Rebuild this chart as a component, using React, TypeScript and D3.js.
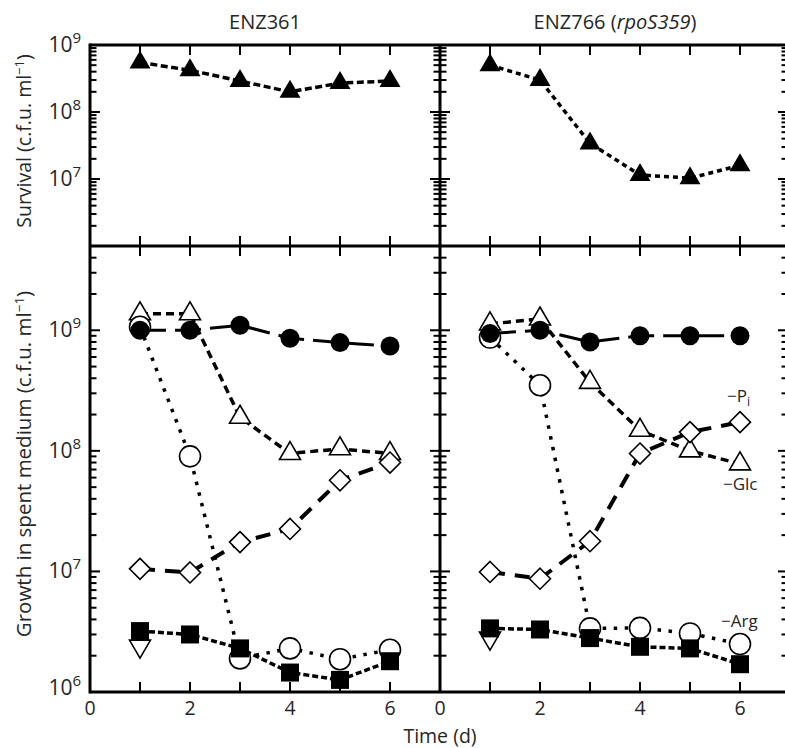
import React from "react";
import * as d3 from "d3";

// ---------- data ----------
const days = [1, 2, 3, 4, 5, 6];
const xTickLabels = [0, 2, 4, 6];
const panelTitles = ["ENZ361", "ENZ766"];

// Survival (filled triangles)
const survivalENZ361 = [5.5e8, 4.2e8, 2.9e8, 2.0e8, 2.7e8, 2.9e8];
const survivalENZ766 = [5.0e8, 3.0e8, 3.4e7, 1.15e7, 1.03e7, 1.6e7];

// Growth in spent medium — ENZ361
const fullENZ361 = [1.0e9, 1.0e9, 1.1e9, 8.6e8, 7.9e8, 7.4e8]; // filled circles
const glcENZ361 = [1.37e9, 1.37e9, 1.9e8, 9.5e7, 1.04e8, 9.5e7]; // open triangles (−Glc)
const argENZ361 = [1.07e9, 9.0e7, 1.9e6, 2.3e6, 1.87e6, 2.24e6]; // open circles (−Arg)
const piENZ361 = [1.05e7, 9.8e6, 1.75e7, 2.25e7, 5.7e7, 8.0e7]; // open diamonds (−Pi)
const sqENZ361 = [3.2e6, 3.0e6, 2.3e6, 1.45e6, 1.26e6, 1.8e6]; // filled squares
const invENZ361 = [2.4e6]; // open inverted triangle, day 1

// Growth in spent medium — ENZ766
const fullENZ766 = [9.4e8, 1.0e9, 8.0e8, 9.0e8, 9.0e8, 9.0e8];
const glcENZ766 = [1.13e9, 1.24e9, 3.7e8, 1.48e8, 1.0e8, 7.8e7];
const argENZ766 = [8.7e8, 3.5e8, 3.37e6, 3.4e6, 3.06e6, 2.5e6];
const piENZ766 = [9.9e6, 8.7e6, 1.78e7, 9.5e7, 1.43e8, 1.73e8];
const sqENZ766 = [3.37e6, 3.3e6, 2.8e6, 2.37e6, 2.3e6, 1.7e6];
const invENZ766 = [2.8e6];

const topMajor = [1e9, 1e8, 1e7];
const botMajor = [1e9, 1e8, 1e7, 1e6];

// ---------- layout ----------
const W = 785;
const H = 748;
const X0 = 90;
const XMID = 440;
const X1 = 790;
const YT = 45;
const YM = 246;
const YB = 692;
const FONT = "'Open Sans', 'Noto Sans', sans-serif";
const TXT = "#262626";

const xLeft = d3.scaleLinear().domain([0, 7]).range([X0, XMID]);
const xRight = d3.scaleLinear().domain([0, 7]).range([XMID, X1]);
const yTop = d3.scaleLog().domain([1e6, 1e9]).range([YM, YT]);
const yBot = d3.scaleLog().domain([1e6, 5e9]).range([YB, YM]);

type Sc = d3.ScaleLinear<number, number> | d3.ScaleLogarithmic<number, number>;

function pts(vals: number[], xs: Sc, ys: Sc, dayList = days) {
  return vals.map((v, i) => [xs(dayList[i]) as number, ys(v) as number] as [number, number]);
}

const lineGen = d3.line<[number, number]>();

function Marker({ kind, x, y }: { kind: string; x: number; y: number }) {
  const sw = 1.6;
  switch (kind) {
    case "fcircle":
      return <circle cx={x} cy={y} r={9.5} fill="#000" />;
    case "ocircle":
      return <circle cx={x} cy={y} r={10.5} fill="#fff" stroke="#000" strokeWidth={sw} />;
    case "ftri":
      return (
        <path d={`M${x},${y - 12}L${x + 10.5},${y + 6}L${x - 10.5},${y + 6}Z`} fill="#000" />
      );
    case "otri":
      return (
        <path
          d={`M${x},${y - 12}L${x + 10.5},${y + 6}L${x - 10.5},${y + 6}Z`}
          fill="#fff"
          stroke="#000"
          strokeWidth={sw}
        />
      );
    case "itri":
      return (
        <path
          d={`M${x},${y + 12}L${x + 10.5},${y - 6}L${x - 10.5},${y - 6}Z`}
          fill="#fff"
          stroke="#000"
          strokeWidth={sw}
        />
      );
    case "diamond":
      return (
        <path
          d={`M${x},${y - 10.5}L${x + 10.5},${y}L${x},${y + 10.5}L${x - 10.5},${y}Z`}
          fill="#fff"
          stroke="#000"
          strokeWidth={sw}
        />
      );
    case "fsquare":
      return <rect x={x - 9} y={y - 9} width={18} height={18} fill="#000" />;
    default:
      return null;
  }
}

function Series({
  vals,
  xs,
  ys,
  dash,
  width,
  dayList = days,
}: {
  vals: number[];
  xs: Sc;
  ys: Sc;
  dash: string;
  width: number;
  dayList?: number[];
}) {
  const p = pts(vals, xs, ys, dayList);
  return (
    <path
      d={lineGen(p) || ""}
      fill="none"
      stroke="#000"
      strokeWidth={width}
      strokeDasharray={dash}
      strokeLinecap="butt"
    />
  );
}

function Markers({ vals, xs, ys, kind, dayList = days }: { vals: number[]; xs: Sc; ys: Sc; kind: string; dayList?: number[] }) {
  const p = pts(vals, xs, ys, dayList);
  return (
    <g>
      {p.map(([x, y], i) => (
        <Marker key={i} kind={kind} x={x} y={y} />
      ))}
    </g>
  );
}

function YTicks({ ys, x, side }: { ys: d3.ScaleLogarithmic<number, number>; x: number; side: "in" | "both" | "left" }) {
  const ticks = ys.ticks();
  return (
    <g stroke="#000" strokeWidth={2}>
      {ticks.map((t, i) => {
        const major = Math.abs(Math.log10(t) - Math.round(Math.log10(t))) < 1e-9;
        const len = major ? 10 : 6.5;
        const y = ys(t);
        let a = x,
          b = x + len;
        if (side === "both") {
          a = x - len;
          b = x + len;
        } else if (side === "left") {
          a = x - len - 2;
          b = x;
        }
        return <line key={i} x1={a} x2={b} y1={y} y2={y} />;
      })}
    </g>
  );
}

function XTicks({ xs, y, dir }: { xs: d3.ScaleLinear<number, number>; y: number; dir: number }) {
  return (
    <g stroke="#000" strokeWidth={2}>
      {days.map((d) => (
        <line key={d} x1={xs(d)} x2={xs(d)} y1={y} y2={y + dir * 10} />
      ))}
    </g>
  );
}

function PowLabel({ v, x, y }: { v: number; x: number; y: number }) {
  const e = Math.round(Math.log10(v));
  return (
    <text x={x} y={y} textAnchor="end" fontSize={21} fontFamily={FONT} fill={TXT}>
      10
      <tspan fontSize={15} dy={-9}>
        {e}
      </tspan>
    </text>
  );
}

function BottomPanel({
  xs,
  full,
  glc,
  arg,
  pi,
  sq,
  inv,
}: {
  xs: d3.ScaleLinear<number, number>;
  full: number[];
  glc: number[];
  arg: number[];
  pi: number[];
  sq: number[];
  inv: number[];
}) {
  return (
    <g>
      <Series vals={glc} xs={xs} ys={yBot} dash="8 5" width={3.5} />
      <Series vals={pi} xs={xs} ys={yBot} dash="15 10" width={4} />
      <Series vals={arg} xs={xs} ys={yBot} dash="3.5 7.5" width={3.5} />
      <Series vals={sq} xs={xs} ys={yBot} dash="6 3" width={3.5} />
      <Series vals={full} xs={xs} ys={yBot} dash="26 9" width={3} />
      <Markers vals={glc} xs={xs} ys={yBot} kind="otri" />
      <Markers vals={pi} xs={xs} ys={yBot} kind="diamond" />
      <Markers vals={arg} xs={xs} ys={yBot} kind="ocircle" />
      <Markers vals={inv} xs={xs} ys={yBot} kind="itri" dayList={[1]} />
      <Markers vals={sq} xs={xs} ys={yBot} kind="fsquare" />
      <Markers vals={full} xs={xs} ys={yBot} kind="fcircle" />
    </g>
  );
}

export default function App() {
  return (
    <svg width={W} height={H} style={{ position: "absolute", left: 0, top: 0, background: "#fff" }}>
      <rect x={0} y={0} width={W} height={H} fill="#fff" />

      {/* titles */}
      <text x={xLeft(3.5)} y={29} textAnchor="middle" fontSize={20} fontFamily={FONT} fill={TXT}>
        {panelTitles[0]}
      </text>
      <text x={xRight(3.5)} y={29} textAnchor="middle" fontSize={20} fontFamily={FONT} fill={TXT}>
        {panelTitles[1]} (<tspan fontStyle="italic">rpoS359</tspan>)
      </text>

      {/* y-axis titles */}
      <text
        transform={`translate(31,${141}) rotate(-90)`}
        textAnchor="middle"
        fontSize={19.5}
        fontFamily={FONT}
        fill={TXT}
      >
        Survival (c.f.u. ml
        <tspan fontSize={13} dy={-7}>
          −1
        </tspan>
        <tspan dy={7}>)</tspan>
      </text>
      <text
        transform={`translate(31,${464}) rotate(-90)`}
        textAnchor="middle"
        fontSize={20.5}
        fontFamily={FONT}
        fill={TXT}
      >
        Growth in spent medium (c.f.u. ml
        <tspan fontSize={13.5} dy={-7}>
          −1
        </tspan>
        <tspan dy={7}>)</tspan>
      </text>

      {/* y tick labels */}
      {topMajor.map((v) => (
        <PowLabel key={"t" + v} v={v} x={81} y={yTop(v) + 7} />
      ))}
      {botMajor.map((v) => (
        <PowLabel key={"b" + v} v={v} x={81} y={yBot(v) + (v === 1e6 ? 3 : 7)} />
      ))}

      {/* x tick labels */}
      {xTickLabels.map((d) => (
        <text key={"xl" + d} x={xLeft(d)} y={715} textAnchor="middle" fontSize={19.5} fontFamily={FONT} fill={TXT}>
          {d}
        </text>
      ))}
      {xTickLabels.map((d) => (
        <text key={"xr" + d} x={xRight(d)} y={715} textAnchor="middle" fontSize={19.5} fontFamily={FONT} fill={TXT}>
          {d}
        </text>
      ))}
      <text x={XMID} y={743} textAnchor="middle" fontSize={19.5} fontFamily={FONT} fill={TXT}>
        Time (d)
      </text>

      {/* ticks */}
      <YTicks ys={yTop} x={X0} side="in" />
      <YTicks ys={yBot} x={X0} side="in" />
      <YTicks ys={yTop} x={XMID} side="both" />
      <YTicks ys={yBot} x={XMID} side="both" />
      <YTicks ys={yTop} x={X1} side="left" />
      <YTicks ys={yBot} x={X1} side="left" />
      <XTicks xs={xLeft} y={YT} dir={1} />
      <XTicks xs={xRight} y={YT} dir={1} />
      <XTicks xs={xLeft} y={YM} dir={-1} />
      <XTicks xs={xRight} y={YM} dir={-1} />
      <XTicks xs={xLeft} y={YM} dir={1} />
      <XTicks xs={xRight} y={YM} dir={1} />
      <XTicks xs={xLeft} y={YB} dir={-1} />
      <XTicks xs={xRight} y={YB} dir={-1} />

      {/* frame */}
      <g stroke="#000" strokeWidth={3} fill="none">
        <line x1={X0} x2={X1} y1={YT} y2={YT} />
        <line x1={X0} x2={X1} y1={YM} y2={YM} />
        <line x1={X0} x2={X1} y1={YB} y2={YB} />
        <line x1={X0} x2={X0} y1={YT - 1.5} y2={YB + 1.5} />
        <line x1={XMID} x2={XMID} y1={YT} y2={YB} />
        <line x1={X1} x2={X1} y1={YT} y2={YB} />
      </g>

      {/* top panels */}
      <Series vals={survivalENZ361} xs={xLeft} ys={yTop} dash="7 3.5" width={3.5} />
      <Markers vals={survivalENZ361} xs={xLeft} ys={yTop} kind="ftri" />
      <Series vals={survivalENZ766} xs={xRight} ys={yTop} dash="5 4" width={3.5} />
      <Markers vals={survivalENZ766} xs={xRight} ys={yTop} kind="ftri" />

      {/* bottom panels */}
      <BottomPanel
        xs={xLeft}
        full={fullENZ361}
        glc={glcENZ361}
        arg={argENZ361}
        pi={piENZ361}
        sq={sqENZ361}
        inv={invENZ361}
      />
      <BottomPanel
        xs={xRight}
        full={fullENZ766}
        glc={glcENZ766}
        arg={argENZ766}
        pi={piENZ766}
        sq={sqENZ766}
        inv={invENZ766}
      />

      {/* series labels */}
      <text x={727} y={402} fontSize={17} fontFamily={FONT} fill={TXT}>
        −P<tspan fontSize={12} dy={4}>i</tspan>
      </text>
      <text x={723} y={490} fontSize={17} fontFamily={FONT} fill={TXT}>
        −Glc
      </text>
      <text x={721} y={627} fontSize={17} fontFamily={FONT} fill={TXT}>
        −Arg
      </text>
    </svg>
  );
}
